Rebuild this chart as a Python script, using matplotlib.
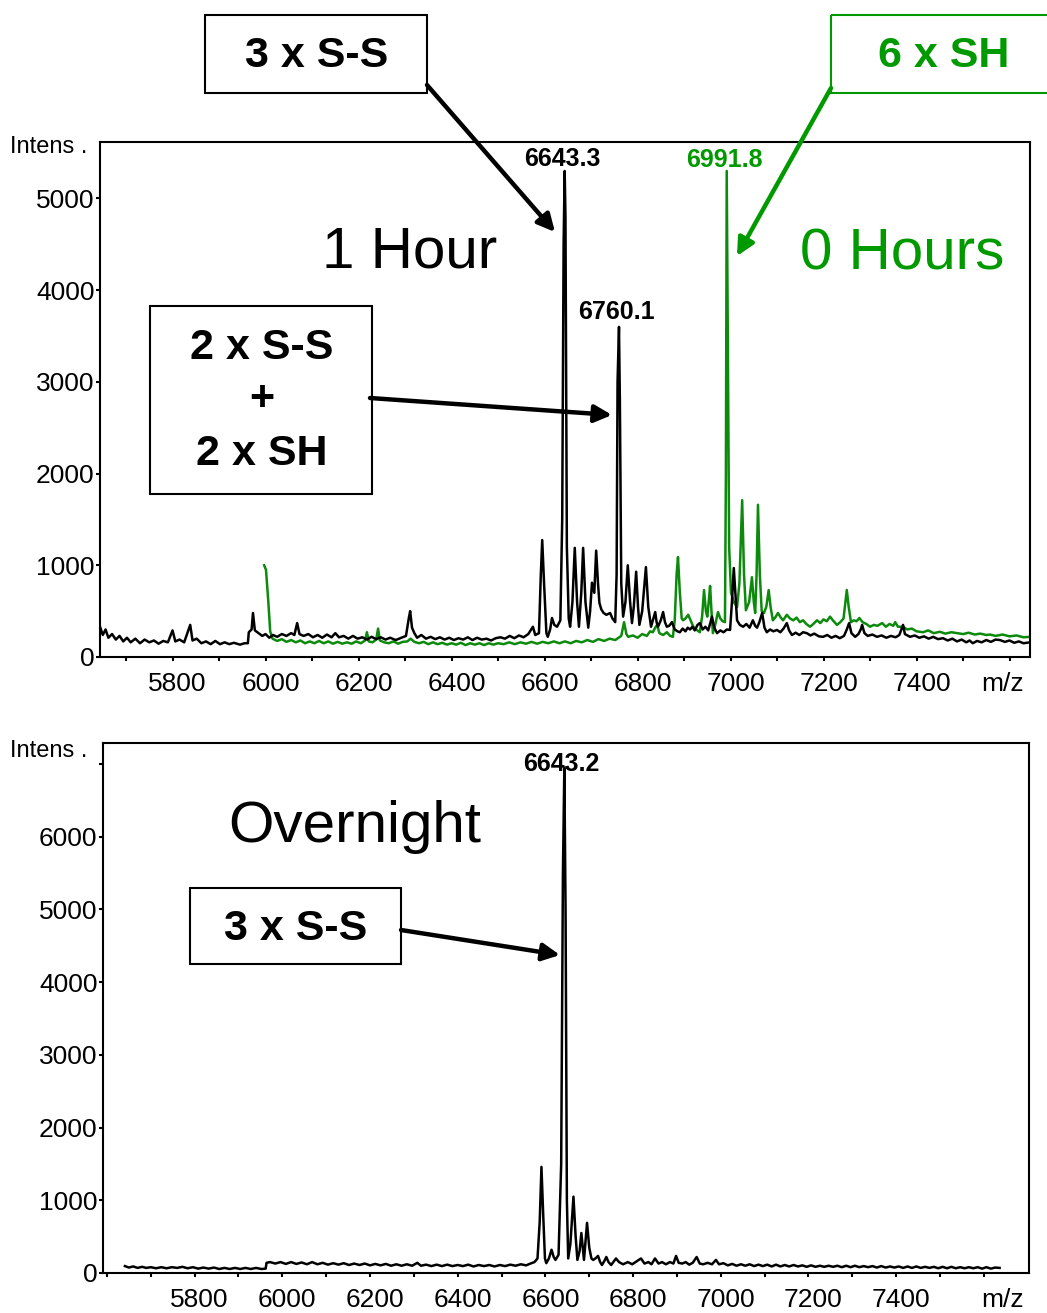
import numpy as np
import matplotlib
matplotlib.use("Agg")
import matplotlib.pyplot as plt
from matplotlib.patches import Rectangle
from matplotlib.transforms import ScaledTranslation

plt.rcParams['font.family'] = ['Liberation Sans', 'DejaVu Sans']

# ---- data: (m/z, intensity) vertices ----
one_hour = [
    (5644, 330), (5650, 240), (5656, 300), (5662, 210), (5670, 250), (5678, 190), (5686, 230),
    (5694, 170), (5702, 210), (5710, 160), (5720, 200), (5730, 150), (5740, 190), (5750, 160),
    (5760, 180), (5770, 145), (5780, 175), (5790, 160), (5800, 290), (5806, 170), (5815, 190),
    (5825, 160), (5838, 350), (5843, 180), (5852, 200), (5862, 150), (5872, 170), (5882, 140),
    (5892, 175), (5902, 140), (5912, 160), (5922, 140), (5932, 155), (5945, 135), (5955, 150),
    (5962, 150), (5964, 270), (5970, 300), (5973, 480), (5977, 290), (5985, 260), (5993, 230),
    (6000, 250), (6008, 210), (6016, 240), (6025, 220), (6035, 250), (6045, 230), (6055, 260),
    (6062, 240), (6068, 370), (6073, 250), (6082, 230), (6092, 250), (6102, 215), (6112, 240),
    (6122, 210), (6132, 245), (6142, 215), (6150, 260), (6158, 215), (6168, 230), (6178, 200),
    (6188, 230), (6198, 200), (6208, 215), (6218, 190), (6228, 220), (6238, 195), (6248, 215),
    (6258, 190), (6268, 210), (6280, 185), (6292, 210), (6302, 230), (6308, 420), (6311, 500),
    (6315, 320), (6320, 260), (6326, 210), (6335, 240), (6345, 200), (6355, 220), (6365, 195),
    (6375, 215), (6385, 190), (6395, 210), (6405, 185), (6415, 205), (6425, 190), (6435, 215),
    (6445, 185), (6455, 210), (6465, 190), (6475, 200), (6485, 180), (6495, 205), (6505, 215),
    (6515, 200), (6525, 230), (6535, 205), (6545, 235), (6555, 215), (6565, 250), (6575, 330),
    (6580, 240), (6588, 260), (6592, 900), (6595, 1275), (6599, 800), (6604, 260), (6607, 220),
    (6612, 300), (6616, 425), (6621, 350), (6627, 330), (6634, 400), (6638, 1500), (6641, 4500),
    (6643.3, 5300), (6645, 4800), (6648, 1200), (6652, 420), (6655, 330), (6660, 600),
    (6665, 1190), (6670, 600), (6674, 330), (6679, 700), (6683, 1190), (6688, 600), (6694, 320),
    (6698, 500), (6702, 810), (6707, 700), (6711, 1160), (6715, 800), (6718, 590), (6722, 520),
    (6727, 480), (6733, 460), (6741, 480), (6746, 420), (6752, 380), (6755, 900), (6757, 3000),
    (6760.1, 3600), (6762, 2800), (6765, 800), (6769, 440), (6774, 600), (6779, 1000),
    (6784, 600), (6788, 370), (6792, 550), (6797, 930), (6801, 550), (6804, 350), (6810, 500),
    (6818, 980), (6823, 550), (6829, 330), (6833, 400), (6838, 490), (6841, 380), (6844, 330),
    (6850, 400), (6855, 490), (6859, 380), (6863, 330), (6868, 340), (6874, 380), (6880, 300),
    (6886, 280), (6891, 270), (6897, 310), (6903, 280), (6908, 320), (6913, 300), (6918, 330),
    (6923, 290), (6929, 350), (6934, 370), (6940, 300), (6946, 330), (6952, 290), (6957, 380),
    (6960, 440), (6965, 320), (6971, 260), (6978, 290), (6985, 270), (6992, 300), (6999, 295),
    (7003, 600), (7007, 970), (7011, 650), (7014, 400), (7020, 350), (7027, 330), (7034, 360),
    (7041, 320), (7048, 400), (7053, 340), (7057, 320), (7062, 380), (7068, 480), (7073, 320),
    (7078, 270), (7085, 300), (7092, 280), (7100, 295), (7107, 270), (7114, 310), (7121, 370),
    (7126, 290), (7132, 240), (7140, 265), (7148, 240), (7156, 270), (7164, 260), (7172, 235),
    (7180, 255), (7190, 225), (7199, 220), (7208, 240), (7217, 210), (7226, 230), (7235, 205),
    (7244, 230), (7250, 300), (7255, 370), (7260, 260), (7268, 220), (7275, 250), (7280, 300),
    (7283, 350), (7288, 260), (7295, 230), (7305, 245), (7315, 220), (7325, 235), (7335, 210),
    (7345, 230), (7355, 215), (7363, 240), (7368, 310), (7371, 350), (7375, 250), (7386, 220),
    (7396, 235), (7406, 210), (7416, 225), (7426, 200), (7436, 220), (7446, 195), (7457, 205),
    (7467, 180), (7477, 200), (7487, 170), (7497, 190), (7507, 160), (7514, 180), (7521, 150),
    (7530, 175), (7540, 160), (7550, 185), (7560, 165), (7570, 190), (7579, 185), (7590, 165),
    (7600, 180), (7610, 155), (7620, 170), (7630, 150), (7644, 160),
]

zero_hours = [
    (5997, 1000), (6001, 950), (6006, 600), (6010, 280), (6015, 200), (6025, 175), (6035, 195),
    (6045, 165), (6055, 185), (6065, 160), (6075, 180), (6085, 150), (6095, 170), (6105, 150),
    (6115, 175), (6125, 150), (6135, 170), (6145, 145), (6155, 165), (6165, 145), (6175, 160),
    (6185, 145), (6195, 170), (6205, 150), (6214, 180), (6218, 270), (6222, 170), (6230, 160),
    (6238, 190), (6242, 310), (6246, 180), (6255, 160), (6265, 150), (6275, 170), (6285, 145),
    (6295, 165), (6305, 170), (6312, 200), (6320, 165), (6330, 150), (6340, 165), (6350, 140),
    (6360, 160), (6370, 140), (6380, 155), (6390, 135), (6400, 150), (6410, 135), (6420, 155),
    (6430, 130), (6440, 150), (6450, 135), (6460, 150), (6470, 130), (6480, 150), (6490, 135),
    (6500, 150), (6512, 140), (6524, 160), (6536, 140), (6548, 160), (6560, 145), (6572, 165),
    (6584, 145), (6596, 165), (6608, 150), (6620, 170), (6632, 150), (6644, 170), (6656, 150),
    (6668, 175), (6680, 160), (6692, 185), (6704, 165), (6716, 195), (6728, 175), (6740, 200),
    (6752, 185), (6765, 230), (6771, 380), (6776, 250), (6780, 220), (6790, 235), (6800, 210),
    (6810, 250), (6820, 230), (6827, 280), (6833, 270), (6838, 320), (6842, 350), (6847, 260),
    (6855, 240), (6863, 270), (6870, 230), (6876, 220), (6880, 400), (6884, 900), (6887, 1090),
    (6891, 700), (6895, 420), (6898, 400), (6903, 420), (6909, 460), (6914, 400), (6920, 330),
    (6926, 300), (6934, 270), (6939, 450), (6943, 730), (6947, 500), (6950, 440), (6953, 600),
    (6956, 775), (6959, 500), (6962, 260), (6967, 350), (6973, 490), (6978, 420), (6983, 390),
    (6988, 380), (6990, 2000), (6991.8, 5300), (6994, 3500), (6997, 1200), (7001, 700),
    (7007, 600), (7014, 545), (7019, 800), (7025, 1710), (7029, 900), (7033, 510), (7040, 600),
    (7046, 870), (7050, 600), (7053, 480), (7056, 900), (7059, 1660), (7063, 900), (7067, 500),
    (7072, 480), (7077, 550), (7082, 730), (7086, 550), (7091, 400), (7096, 430), (7102, 480),
    (7108, 430), (7113, 400), (7117, 430), (7121, 460), (7128, 420), (7135, 400), (7142, 430),
    (7149, 380), (7156, 400), (7163, 360), (7171, 330), (7178, 360), (7186, 400), (7193, 370),
    (7200, 410), (7207, 390), (7214, 440), (7220, 400), (7229, 350), (7236, 380), (7243, 420),
    (7247, 600), (7250, 730), (7254, 550), (7259, 380), (7265, 400), (7271, 390), (7277, 425),
    (7284, 380), (7292, 360), (7300, 330), (7308, 350), (7316, 340), (7326, 370), (7334, 330),
    (7342, 360), (7350, 340), (7354, 380), (7360, 330), (7371, 330), (7380, 300), (7390, 310),
    (7400, 280), (7414, 270), (7425, 290), (7437, 260), (7450, 275), (7462, 255), (7475, 270),
    (7487, 260), (7500, 250), (7512, 265), (7525, 245), (7537, 255), (7550, 240), (7558, 245),
    (7570, 230), (7585, 245), (7600, 225), (7615, 235), (7630, 215), (7644, 220),
]

overnight = [
    (5641, 95), (5650, 75), (5660, 90), (5670, 70), (5680, 85), (5690, 70), (5700, 80),
    (5712, 65), (5724, 80), (5736, 65), (5748, 80), (5760, 70), (5772, 85), (5784, 65),
    (5796, 80), (5808, 60), (5820, 75), (5832, 60), (5844, 75), (5856, 55), (5868, 70),
    (5880, 55), (5892, 70), (5904, 55), (5916, 70), (5928, 55), (5940, 70), (5952, 55),
    (5962, 60), (5964, 140), (5972, 150), (5984, 130), (5996, 150), (6008, 125), (6020, 150),
    (6032, 125), (6044, 145), (6056, 120), (6068, 150), (6080, 120), (6092, 140), (6104, 115),
    (6116, 135), (6128, 115), (6140, 135), (6152, 110), (6164, 130), (6176, 110), (6188, 130),
    (6200, 105), (6212, 125), (6224, 105), (6236, 125), (6248, 100), (6260, 120), (6272, 100),
    (6284, 120), (6296, 100), (6308, 140), (6316, 100), (6328, 115), (6340, 95), (6352, 115),
    (6364, 95), (6376, 115), (6388, 95), (6400, 110), (6412, 95), (6424, 115), (6436, 90),
    (6448, 110), (6460, 95), (6472, 110), (6484, 90), (6496, 110), (6508, 95), (6520, 115),
    (6532, 100), (6544, 120), (6556, 105), (6566, 130), (6575, 150), (6582, 200), (6587, 700),
    (6591, 1460), (6595, 800), (6599, 200), (6602, 135), (6608, 200), (6614, 320), (6619, 220),
    (6623, 180), (6630, 250), (6636, 1500), (6640, 5500), (6643.2, 6950), (6646, 5000),
    (6649, 1000), (6652, 200), (6657, 400), (6664, 1050), (6669, 500), (6673, 180), (6678, 300),
    (6682, 550), (6686, 300), (6688, 180), (6691, 400), (6695, 690), (6700, 350), (6705, 200),
    (6709, 180), (6714, 200), (6720, 235), (6725, 150), (6729, 110), (6734, 160), (6739, 220),
    (6744, 150), (6750, 110), (6755, 150), (6761, 200), (6768, 150), (6777, 120), (6788, 150),
    (6798, 120), (6808, 160), (6818, 200), (6826, 130), (6835, 150), (6842, 120), (6850, 200),
    (6858, 130), (6866, 150), (6875, 120), (6884, 150), (6892, 130), (6898, 235), (6904, 140),
    (6912, 130), (6920, 150), (6928, 115), (6936, 140), (6945, 220), (6952, 130), (6960, 120),
    (6970, 140), (6980, 120), (6989, 180), (6996, 120), (7006, 135), (7016, 105), (7026, 125),
    (7036, 100), (7046, 120), (7056, 100), (7066, 120), (7076, 95), (7086, 115), (7096, 95),
    (7106, 115), (7116, 90), (7126, 115), (7136, 90), (7146, 110), (7156, 90), (7166, 110),
    (7176, 90), (7186, 105), (7196, 85), (7206, 105), (7216, 85), (7226, 100), (7236, 85),
    (7246, 100), (7256, 85), (7266, 100), (7276, 80), (7286, 100), (7296, 80), (7306, 100),
    (7316, 80), (7326, 95), (7336, 80), (7346, 95), (7356, 75), (7366, 95), (7376, 75),
    (7386, 90), (7396, 75), (7406, 90), (7416, 70), (7426, 90), (7436, 70), (7446, 90),
    (7456, 70), (7466, 85), (7476, 70), (7486, 85), (7496, 65), (7506, 85), (7516, 65),
    (7526, 85), (7536, 65), (7546, 80), (7556, 65), (7566, 80), (7576, 65), (7586, 80),
    (7596, 60), (7606, 80), (7616, 60), (7626, 75), (7636, 70),
]

top_peaks = [(6643.3, 5300, '6643.3', 'k'), (6991.8, 5300, '6991.8', 'g'), (6760.1, 3600, '6760.1', 'k')]
bottom_peaks = [(6643.2, 6950, '6643.2', 'k')]
xtick_labels = [5800, 6000, 6200, 6400, 6600, 6800, 7000, 7200, 7400]

GREEN_LINE = '#0b8a0b'
GREEN_TEXT = '#009a00'
W, H = 1047, 1313

fig = plt.figure(figsize=(W / 100, H / 100), dpi=100)


def px_axes(left, top, right, bottom):
    return fig.add_axes([left / W, 1 - bottom / H, (right - left) / W, (bottom - top) / H])


def style(ax, xlim, ylim, yticks, ylabels):
    ax.set_xlim(*xlim)
    ax.set_ylim(*ylim)
    ticks = np.arange(5600, 7700, 100)
    ticks = ticks[(ticks >= xlim[0]) & (ticks <= xlim[1])]
    ax.set_xticks(ticks)
    ax.set_xticklabels([str(t) if t in xtick_labels else '' for t in ticks])
    ax.set_yticks(yticks)
    ax.set_yticklabels(ylabels)
    ax.tick_params(direction='out', length=3, width=1.5, labelsize=19)
    ax.tick_params(axis='x', pad=8)
    ax.tick_params(axis='y', pad=1)
    # the tick labels in the original sit a few pixels right of their ticks
    shift = ScaledTranslation(5 / 100, 0, fig.dpi_scale_trans)
    for lab in ax.get_xticklabels():
        lab.set_transform(lab.get_transform() + shift)
    for s in ax.spines.values():
        s.set_linewidth(1.5)


# ---- top panel: 1 Hour vs 0 Hours ----
ax1 = px_axes(100, 142, 1030, 657)
zx, zy = np.array(zero_hours).T
ox, oy = np.array(one_hour).T
ax1.plot(zx, zy, color=GREEN_LINE, lw=1.8)
ax1.plot(ox, oy, color='black', lw=1.8)
style(ax1, (5644, 7644), (0, 5616), range(0, 6000, 1000), [str(v) for v in range(0, 6000, 1000)])

# ---- bottom panel: overnight ----
ax2 = px_axes(103, 743, 1029, 1273)
nx, ny = np.array(overnight).T
ax2.plot(nx, ny, color='black', lw=1.8)
style(ax2, (5591, 7703), (0, 7290), range(0, 8000, 1000),
      [str(v) for v in range(0, 7000, 1000)] + [''])

# ---- overlay in pixel coordinates for labels, boxes and arrows ----
ov = fig.add_axes([0, 0, 1, 1])
ov.set_xlim(0, W)
ov.set_ylim(H, 0)
ov.axis('off')
ov.patch.set_alpha(0)

# vertical offset (points) of each peak label centre above the apex
label_lift = {'6643.3': 8.5, '6991.8': 8, '6760.1': 10.5, '6643.2': 3}
for ax, pk in ((ax1, top_peaks), (ax2, bottom_peaks)):
    for mz, inten, lab, col in pk:
        c = GREEN_TEXT if col == 'g' else 'black'
        ax.annotate(lab, (mz, inten), xytext=(-2, label_lift[lab]), textcoords='offset points',
                    ha='center', va='center', fontsize=18, fontweight='bold', color=c,
                    annotation_clip=False)

ov.text(10, 147, 'Intens .', fontsize=17, ha='left', va='center')
ov.text(10, 751, 'Intens .', fontsize=17, ha='left', va='center')
ov.text(1003, 684, 'm/z', fontsize=19, ha='center', va='center')
ov.text(1003, 1300, 'm/z', fontsize=19, ha='center', va='center')

ov.text(410, 252, '1 Hour', fontsize=42, ha='center', va='center')
ov.text(902, 254, '0 Hours', fontsize=42, ha='center', va='center', color=GREEN_TEXT)
ov.text(355, 827, 'Overnight', fontsize=42, ha='center', va='center')


def box(x0, y0, x1, y1, color='black'):
    ov.add_patch(Rectangle((x0, y0), x1 - x0, y1 - y0, fill=False, lw=1.5,
                           edgecolor=color, clip_on=False))


def arrow(x0, y0, x1, y1, color='black'):
    ov.annotate('', xy=(x1, y1), xytext=(x0, y0),
                arrowprops=dict(arrowstyle='-|>', lw=3.2, color=color,
                                mutation_scale=26, shrinkA=0, shrinkB=0))


box(205, 15, 427, 93)
ov.text(317, 56, '3 x S-S', fontsize=31, fontweight='bold', ha='center', va='center')
arrow(427, 85, 555, 232)

box(831, 15, 1060, 93, GREEN_TEXT)
ov.text(944, 56, '6 x SH', fontsize=31, fontweight='bold', ha='center', va='center', color=GREEN_TEXT)
arrow(831, 88, 737, 256, GREEN_TEXT)

box(150, 306, 372, 494)
ov.text(262, 348, '2 x S-S', fontsize=31, fontweight='bold', ha='center', va='center')
ov.text(262, 399, '+', fontsize=31, fontweight='bold', ha='center', va='center')
ov.text(262, 454, '2 x SH', fontsize=31, fontweight='bold', ha='center', va='center')
arrow(370, 398, 612, 415)

box(190, 888, 401, 964)
ov.text(296, 929, '3 x S-S', fontsize=31, fontweight='bold', ha='center', va='center')
arrow(401, 930, 560, 955)

fig.savefig('out.png', dpi=100)
